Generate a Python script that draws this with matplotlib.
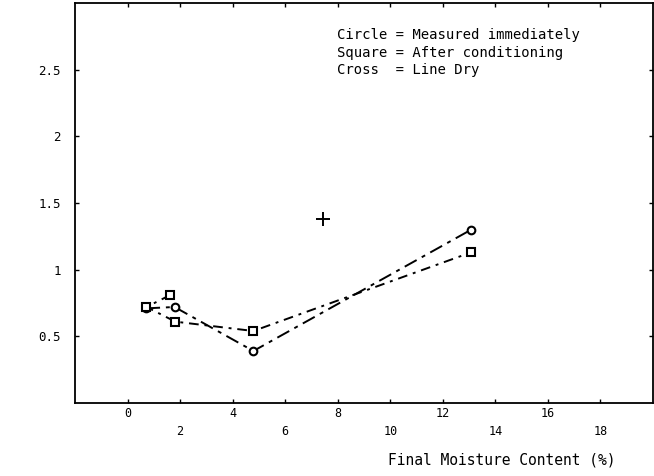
import matplotlib
matplotlib.use("Agg")
import matplotlib.pyplot as plt

# Data
circle_x = [0.72, 1.79, 4.79, 13.08]
circle_y = [0.71, 0.72, 0.39, 1.30]
square_x = [1.63, 0.72, 1.82, 4.79, 13.08]
square_y = [0.81, 0.72, 0.61, 0.54, 1.13]
cross_x = [7.45]
cross_y = [1.38]

x_ticks = [0, 2, 4, 6, 8, 10, 12, 14, 16, 18]
y_ticks = [0.5, 1, 1.5, 2, 2.5]
y_tick_labels = ["0.5", "1", "1.5", "2", "2.5"]
legend_lines = ["Circle = Measured immediately",
                "Square = After conditioning",
                "Cross  = Line Dry"]
x_label = "Final Moisture Content (%)"

W, H = 654, 476
fig = plt.figure(figsize=(W / 100, H / 100), dpi=100)
ax = fig.add_axes([75 / W, 73 / H, 578 / W, 400 / H])

ax.plot(circle_x, circle_y, color="black", lw=1.4, linestyle=(0, (7, 3, 2, 3)),
        marker="o", ms=5.5, mfc="white", mec="black", mew=1.5)
ax.plot(square_x, square_y, color="black", lw=1.4, linestyle=(0, (5, 3, 1.5, 3)),
        marker="s", ms=5.5, mfc="white", mec="black", mew=1.5)
ax.plot(cross_x, cross_y, linestyle="none", marker="+", ms=10, mew=1.4, color="black")

ax.set_xlim(-2, 20)
ax.set_ylim(0, 3)

mono = "DejaVu Sans Mono"
ax.set_xticks(x_ticks)
ax.set_xticklabels([str(v) if i % 2 == 0 else "\n" + str(v) for i, v in enumerate(x_ticks)],
                   fontsize=8.5, family=mono, linespacing=1.45)
ax.set_yticks(y_ticks)
ax.set_yticklabels(y_tick_labels, fontsize=9, family=mono)
ax.tick_params(direction="in", length=3, width=1, top=True, right=True)
ax.tick_params(axis="x", pad=3)
ax.tick_params(axis="y", pad=10)

for s in ax.spines.values():
    s.set_linewidth(1.3)

for i, t in enumerate(legend_lines):
    fig.text(337 / W, 1 - (35 + i * 17.5) / H, t, fontsize=10, family=mono,
             va="center", ha="left")

fig.text(615 / W, 1 - 460 / H, x_label, fontsize=10.5, family=mono,
         ha="right", va="center")

fig.savefig("out.png", dpi=100)
